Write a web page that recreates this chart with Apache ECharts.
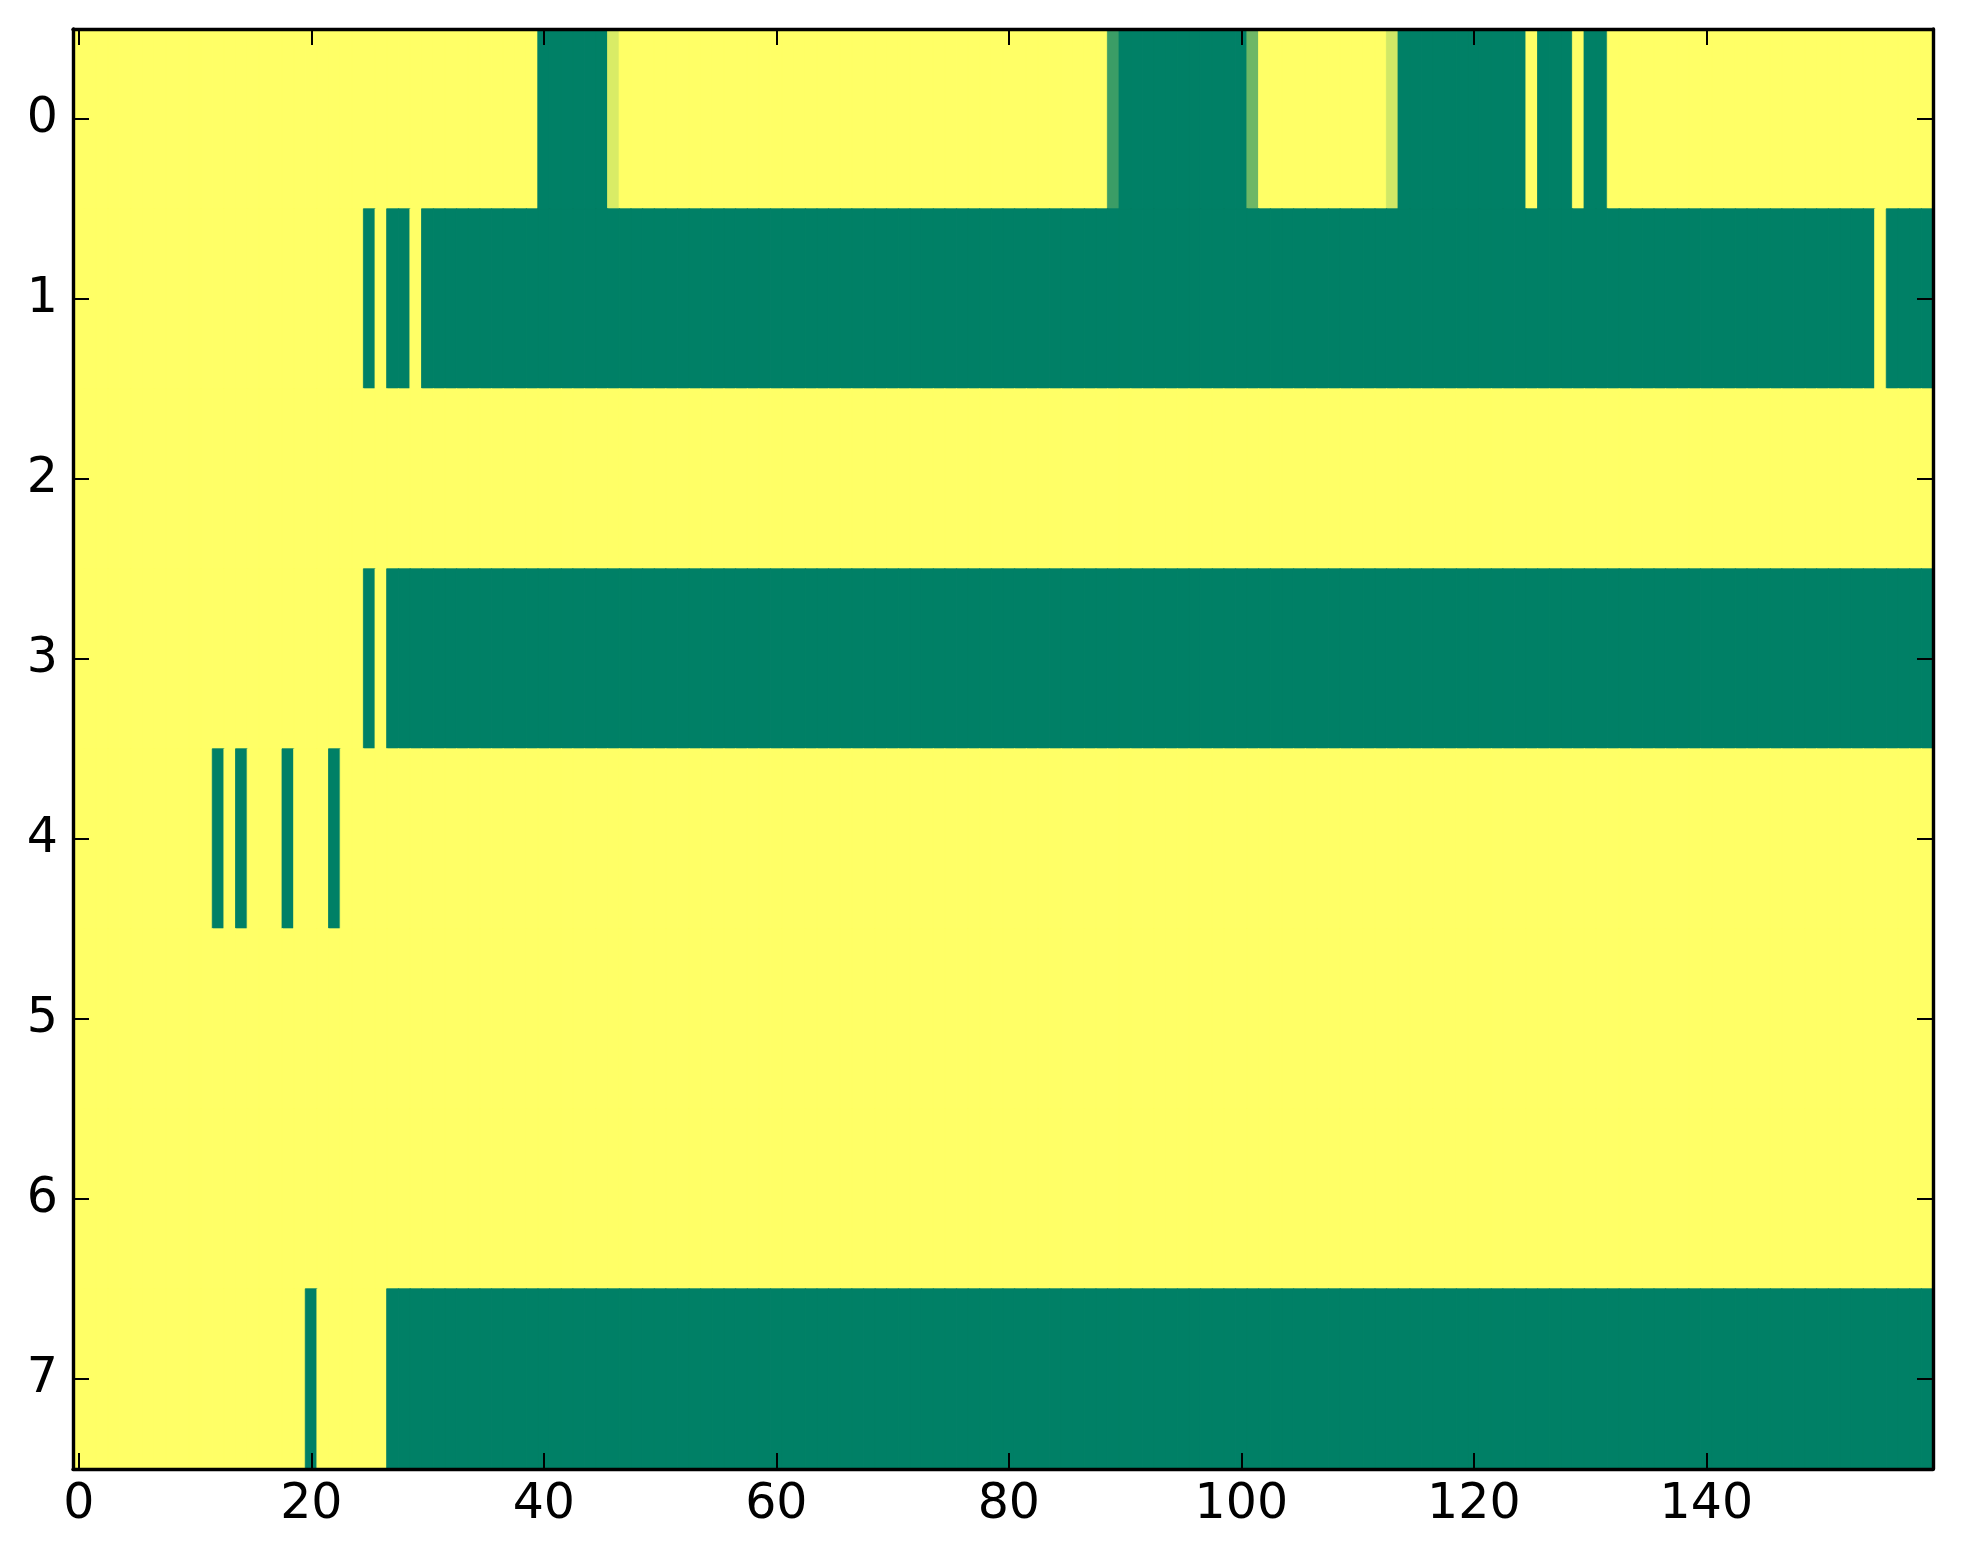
<!DOCTYPE html>
<html>
<head>
    <meta charset="utf-8">
    <title>heatmap</title>
    <script src="https://cdn.jsdelivr.net/npm/echarts@6/dist/echarts.min.js"></script>
    <style>
        html, body { margin: 0; padding: 0; background: #fff; }
        #chart { width: 1963px; height: 1564px; }
    </style>
</head>
<body>
<div id="chart"></div>
<script type="text/javascript">
    // each row: runs of [value, number of columns], 160 columns per row
    var row0 = [[1, 40], [0, 6], [0.85, 1], [1, 42], [0.23, 1], [0, 11], [0.43, 1], [1, 11], [0.82, 1], [0, 11], [1, 1], [0, 3], [1, 1], [0, 2], [1, 28]];
    var row1 = [[1, 25], [0, 1], [1, 1], [0, 2], [1, 1], [0, 125], [1, 1], [0, 4]];
    var row2 = [[1, 160]];
    var row3 = [[1, 25], [0, 1], [1, 1], [0, 133]];
    var row4 = [[1, 12], [0, 1], [1, 1], [0, 1], [1, 3], [0, 1], [1, 3], [0, 1], [1, 137]];
    var row5 = [[1, 160]];
    var row6 = [[1, 160]];
    var row7 = [[1, 20], [0, 1], [1, 6], [0, 133]];
    var rows = [row0, row1, row2, row3, row4, row5, row6, row7];

    var xTickLabels = ['0', '20', '40', '60', '80', '100', '120', '140'];
    var yTickLabels = ['0', '1', '2', '3', '4', '5', '6', '7'];
    var colors = ['#008066', '#ffff66'];   // summer colormap ends

    var nCols = 160;
    var xCats = [];
    for (var i = 0; i < nCols; i++) xCats.push(String(i));

    // cells; a thin border of the same colour hides the seams between cells
    var cells = [];
    rows.forEach(function (runs, r) {
        var c = 0;
        runs.forEach(function (run) {
            for (var k = 0; k < run[1]; k++) {
                cells.push({
                    value: [c, r, run[0]],
                    itemStyle: {borderColor: echarts.color.lerp(run[0], colors), borderWidth: 0.8}
                });
                c++;
            }
        });
    });

    var isXTick = function (index, value) {
        return xTickLabels.indexOf(String(value)) >= 0;
    };
    var font = 'DejaVu Sans';
    var line = {show: true, lineStyle: {color: '#000', width: 3.4}};
    var tick = {color: '#000', width: 2};

    var myChart = echarts.init(document.getElementById('chart'));
    myChart.setOption({
        backgroundColor: '#fff',
        animation: false,
        grid: {left: 73, top: 29, width: 1860, height: 1440},
        visualMap: {
            show: false,
            min: 0,
            max: 1,
            dimension: 2,
            inRange: {color: colors}
        },
        xAxis: [{
            type: 'category',
            data: xCats,
            position: 'bottom',
            z: 10,
            axisLine: line,
            axisTick: {show: true, inside: true, alignWithLabel: true, interval: isXTick, length: 16, lineStyle: tick},
            axisLabel: {interval: isXTick, margin: 12, color: '#000', fontSize: 49, fontFamily: font},
            splitLine: {show: false}
        }, {
            type: 'category',
            data: xCats,
            position: 'top',
            z: 10,
            axisLine: line,
            axisTick: {show: true, inside: true, alignWithLabel: true, interval: isXTick, length: 16, lineStyle: tick},
            axisLabel: {show: false},
            splitLine: {show: false}
        }],
        yAxis: [{
            type: 'category',
            data: yTickLabels,
            inverse: true,
            position: 'left',
            z: 10,
            axisLine: line,
            axisTick: {show: true, inside: true, alignWithLabel: true, interval: 0, length: 16, lineStyle: tick},
            axisLabel: {interval: 0, margin: 15, color: '#000', fontSize: 49, fontFamily: font},
            splitLine: {show: false}
        }, {
            type: 'category',
            data: yTickLabels,
            inverse: true,
            position: 'right',
            z: 10,
            axisLine: line,
            axisTick: {show: true, inside: true, alignWithLabel: true, interval: 0, length: 16, lineStyle: tick},
            axisLabel: {show: false},
            splitLine: {show: false}
        }],
        series: [{
            type: 'heatmap',
            xAxisIndex: 0,
            yAxisIndex: 0,
            data: cells,
            emphasis: {disabled: true}
        }]
    });
</script>
</body>
</html>
